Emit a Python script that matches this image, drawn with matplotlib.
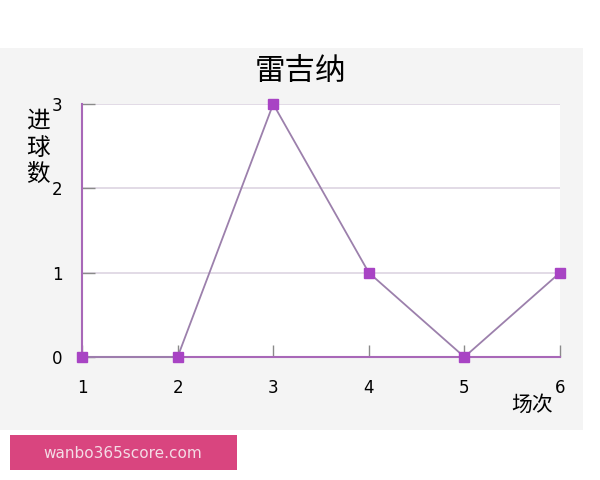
import matplotlib
matplotlib.use('Agg')
import matplotlib.pyplot as plt
from matplotlib.patches import Rectangle

plt.rcParams['font.family'] = ['Noto Sans CJK SC', 'DejaVu Sans']

# data
matches = [1, 2, 3, 4, 5, 6]
goals = [0, 0, 3, 1, 0, 1]
y_ticks = [0, 1, 2, 3]
title = '雷吉纳'
ylabel = '进\n球\n数'
xlabel = '场次'

fig = plt.figure(figsize=(6, 4.8), dpi=100)
fig.patch.set_facecolor('white')

# gray panel behind the chart
fig.patches.append(Rectangle((0, 0.104), 0.972, 0.796, transform=fig.transFigure,
                             facecolor='#f4f4f4', edgecolor='none', zorder=-5))
# watermark box
fig.patches.append(Rectangle((10 / 600, 1 - 470 / 480), 227 / 600, 35 / 480,
                             transform=fig.transFigure, facecolor='#d9457f',
                             edgecolor='none', zorder=1))
fig.text(123 / 600, 1 - 453 / 480, 'wanbo365score.com', color='#f4dce6',
         fontsize=11, ha='center', va='center', family='DejaVu Sans')

ax = fig.add_axes([82 / 600, 1 - 357 / 480, 478 / 600, 253 / 480])
ax.set_zorder(2)
ax.set_facecolor('white')
ax.set_xlim(1, 6)
ax.set_ylim(0, 3)

for v in y_ticks[1:]:
    ax.axhline(v, color='#ddd4e2', lw=1.2, zorder=1)

ax.plot(matches, goals, color='#9c80ac', lw=1.3, zorder=3, clip_on=False)
ax.plot(matches, goals, ls='none', marker='s', ms=7, color='#a844c4',
        zorder=4, clip_on=False)

for s in ['top', 'right']:
    ax.spines[s].set_visible(False)
for s in ['left', 'bottom']:
    ax.spines[s].set_color('#a868b8')
    ax.spines[s].set_linewidth(1.5)

ax.set_xticks(matches)
ax.set_yticks(y_ticks)
ax.tick_params(axis='both', direction='in', length=9, color='#8a8a8a', width=1)
ax.tick_params(axis='x', pad=16, labelsize=12)
ax.tick_params(axis='y', pad=14, labelsize=12)
for lab in ax.get_xticklabels() + ax.get_yticklabels():
    lab.set_family('DejaVu Sans')

fig.text(0.5, 1 - 72 / 480, title, fontsize=22, ha='center', va='center')
fig.text(38 / 600, 1 - 148 / 480, ylabel, fontsize=17, ha='center', va='center',
         linespacing=1.2)
fig.text(532 / 600, 1 - 405 / 480, xlabel, fontsize=15, ha='center', va='center')

fig.savefig('out.png', dpi=100)
